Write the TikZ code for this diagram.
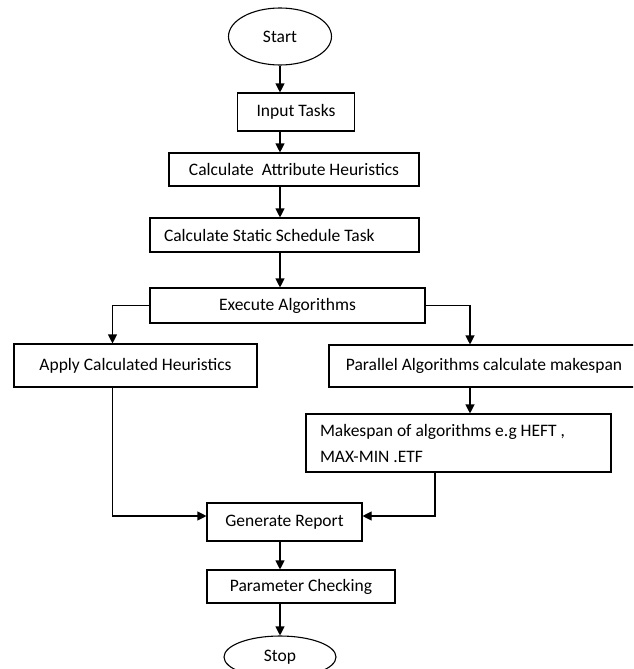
\documentclass[tikz,border=0pt]{standalone}
\usepackage{fontspec}
\setmainfont{Carlito}
\usetikzlibrary{shapes.geometric,arrows.meta}

\begin{document}
\begin{tikzpicture}[x=1pt,y=-1pt,
                    font=\fontsize{17.5}{26}\selectfont,
                    box/.style={draw,rectangle,line width=1.1pt,inner sep=0pt},
                    term/.style={draw,ellipse,line width=1.1pt,inner sep=0pt},
                    flow/.style={line width=1.1pt,-{Triangle[length=9pt,width=9pt]}}
]
\useasboundingbox (0,0) rectangle (633,669);
\clip (0,0) rectangle (633,669);

% Draw the main column
\node [term, minimum width=103pt, minimum height=57pt] at (280,36.5) (start) {Start};
\node [box, minimum width=117pt, minimum height=38pt] at (296,112) (input) {Input Tasks};
\node [box, minimum width=250pt, minimum height=33pt] at (294,169.5) (attr) {Calculate~ Attribute Heuristics};
\node [box, minimum width=269pt, minimum height=34pt, text width=241pt, align=flush left] at (284.5,235) (static) {Calculate Static Schedule Task};
\node [box, minimum width=275pt, minimum height=35pt] at (287.5,305.5) (exec) {Execute Algorithms};

% Draw the two branches
\node [box, minimum width=243pt, minimum height=43pt] at (135.5,365.5) (apply) {Apply Calculated Heuristics};
\node [box, minimum width=310pt, minimum height=42pt] at (484,366) (par) {Parallel Algorithms calculate makespan};
\node [box, minimum width=305pt, minimum height=58pt, text width=277pt, align=flush left] at (458.5,443) (span) {Makespan of algorithms e.g HEFT ,\\MAX-MIN .ETF};

% Draw the bottom column
\node [box, minimum width=155pt, minimum height=38pt] at (284.5,522) (gen) {Generate Report};
\node [box, minimum width=188pt, minimum height=33pt] at (301,586.5) (param) {Parameter Checking};
\node [term, minimum width=112pt, minimum height=42pt] at (280,657) (stop) {Stop};

% Draw the arrows down the middle
\draw [flow] (start.south) -- (start.south |- input.north);
\draw [flow] (start.south |- input.south) -- (start.south |- attr.north);
\draw [flow] (start.south |- attr.south) -- (start.south |- static.north);
\draw [flow] (start.south |- static.south) -- (start.south |- exec.north);

% Draw the branches out of and back into the column
\draw [flow] (exec.west) -| ([xshift=-23pt]apply.north);
\draw [flow] (exec.east) -| ([xshift=-14pt]par.north);
\draw [flow] ([xshift=-14pt]par.south) -- ([xshift=-14pt]par.south |- span.north);
\draw [flow] ([xshift=-23pt]apply.south) |- ([yshift=6pt]gen.west);
\draw [flow] ([xshift=-23.5pt]span.south) |- ([yshift=6pt]gen.east);

\draw [flow] (start.south |- gen.south) -- (start.south |- param.north);
\draw [flow] (stop.north |- param.south) -- (stop.north);

\end{tikzpicture}
\end{document}
